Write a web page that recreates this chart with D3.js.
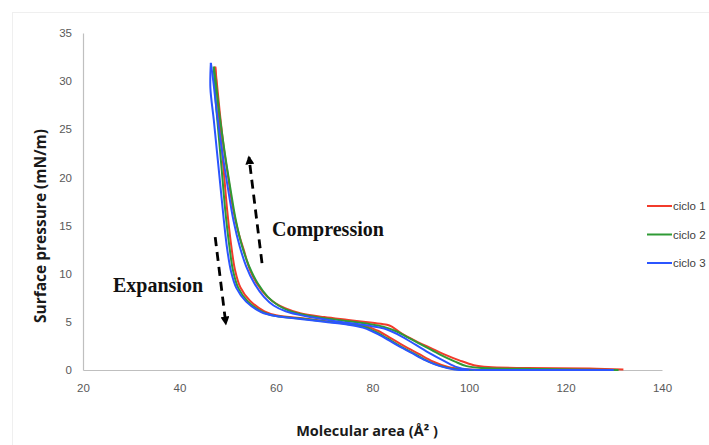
<!DOCTYPE html>
<html>
<head>
<meta charset="utf-8">
<script src="https://cdn.jsdelivr.net/npm/d3@7"></script>
<style>
  body { margin: 0; background: #fff; }
  svg { display: block; }
</style>
</head>
<body>
<svg id="chart" width="709" height="445"></svg>
<script>
// Values (area in Å², pressure in mN/m)
const ciclo1Compression = [
  [132, 0.05], [125, 0.15], [112, 0.2], [104, 0.3], [101, 0.5], [98, 1.0], [95, 1.6],
  [92, 2.3], [89, 3.0], [86, 3.8], [84, 4.5], [83, 4.7], [80, 4.9], [75, 5.2], [70, 5.5],
  [65, 5.9], [62, 6.4], [60, 6.9], [58, 7.7], [56, 9.0], [54.6, 10.4], [53.3, 12.5],
  [52.1, 14.5], [51, 17], [50.1, 20], [49.2, 23], [48.4, 26.5], [47.8, 29.5], [47.4, 31.5]
];
const ciclo1Expansion = [
  [47.4, 31.5], [47.9, 28], [48.5, 24.5], [49.2, 20.5], [49.9, 16.5], [50.7, 13],
  [51.5, 10.4], [52.6, 8.6], [54.6, 7.2], [57.6, 6.1], [60, 5.7], [65, 5.4], [70, 5.1],
  [75, 4.8], [79, 4.5], [81, 4.1], [83.5, 3.4], [86.5, 2.5], [89.5, 1.7], [92.5, 0.9],
  [95.5, 0.35], [98.5, 0.1], [102, 0]
];
const ciclo2Compression = [
  [131, 0], [115, 0.1], [103, 0.2], [99.5, 0.4], [97, 0.9], [94, 1.6], [91, 2.4],
  [88, 3.2], [85, 4.0], [82.2, 4.5], [79, 4.8], [73, 5.2], [67, 5.6], [63, 6.1],
  [60.5, 6.7], [58.3, 7.6], [56.2, 9.0], [54.4, 10.8], [53, 12.8], [51.7, 15.5],
  [50.5, 19], [49.4, 22.5], [48.3, 26.5], [47.5, 30], [47.1, 31.5]
];
const ciclo2Expansion = [
  [47.1, 31.5], [47.5, 28], [48.1, 24.5], [48.8, 20.5], [49.5, 16.5], [50.3, 13],
  [51.1, 10.3], [52.2, 8.5], [54.2, 7.1], [57.3, 6.0], [60, 5.6], [65, 5.35], [70, 5.05],
  [75, 4.75], [78.5, 4.45], [80.5, 4.0], [83, 3.3], [86, 2.4], [89, 1.6], [92, 0.8],
  [95, 0.3], [98, 0.05], [101, 0]
];
const ciclo3Compression = [
  [130, 0], [110, 0], [100, 0.05], [97.5, 0.3], [95, 0.9], [92, 1.7], [89, 2.6],
  [86, 3.5], [83, 4.2], [81.5, 4.4], [78, 4.7], [72, 5.1], [66, 5.6], [62, 6.1],
  [59.5, 6.7], [57.5, 7.6], [55.5, 9.0], [53.8, 10.8], [52.5, 12.8], [51.2, 15.5],
  [50, 19], [48.9, 22.5], [47.8, 26.5], [47, 30], [46.5, 31.9]
];
const ciclo3Expansion = [
  [46.5, 31.9], [46.4, 29.3], [47.1, 26], [47.8, 22.5], [48.5, 19], [49.2, 15.5],
  [49.9, 12.5], [50.7, 10.2], [51.8, 8.5], [53.8, 7.1], [57, 6.0], [60, 5.6], [65, 5.3],
  [70, 5.0], [75, 4.7], [78, 4.4], [80, 4.0], [82, 3.5], [85, 2.6], [88, 1.8], [91, 1.0],
  [94, 0.4], [97, 0.05], [100, 0]
];

const seriesNames = ["ciclo 1", "ciclo 2", "ciclo 3"];
const seriesColors = ["#f23b2b", "#2f9a35", "#2b55ff"];
const xTicks = [20, 40, 60, 80, 100, 120, 140];
const yTicks = [0, 5, 10, 15, 20, 25, 30, 35];

// annotation arrows, [from, to] in data units
const compressionArrow = [[57.1, 11.1], [54.4, 22.1]];
const expansionArrow = [[47.4, 13.8], [49.6, 4.8]];

const svg = d3.select("#chart");

// faint outer frame
svg.append("rect")
  .attr("x", 12.5).attr("y", 12.5)
  .attr("width", 720).attr("height", 460)
  .attr("fill", "none")
  .attr("stroke", "#efefef");

const x = d3.scaleLinear().domain([20, 140]).range([83, 662]);
const y = d3.scaleLinear().domain([0, 35]).range([370, 33]);

const xAxis = d3.axisBottom(x).tickValues(xTicks).tickSize(0).tickSizeOuter(0).tickPadding(14);
const yAxis = d3.axisLeft(y).tickValues(yTicks).tickSize(0).tickSizeOuter(0).tickPadding(11);

const xAxisGroup = svg.append("g").attr("transform", "translate(0,370)").call(xAxis);
const yAxisGroup = svg.append("g").attr("transform", "translate(83,0)").call(yAxis);

[xAxisGroup, yAxisGroup].forEach(g => {
  g.select(".domain").attr("stroke", "#bfbfbf").attr("stroke-width", 1.2);
  g.selectAll("text")
    .attr("fill", "#595959")
    .attr("font-family", "'Liberation Sans', Arial, sans-serif")
    .attr("font-size", "11.5px");
});

// curves
const line = d3.line()
  .x(d => x(d[0]))
  .y(d => y(d[1]))
  .curve(d3.curveCatmullRom.alpha(0.5));

const cycles = [
  [ciclo1Compression, ciclo1Expansion],
  [ciclo2Compression, ciclo2Expansion],
  [ciclo3Compression, ciclo3Expansion]
];

cycles.forEach((branches, i) => {
  branches.forEach(pts => {
    svg.append("path")
      .datum(pts)
      .attr("d", line)
      .attr("fill", "none")
      .attr("stroke", seriesColors[i])
      .attr("stroke-width", 2)
      .attr("stroke-linejoin", "round");
  });
});

// arrows
const defs = svg.append("defs");
defs.append("marker")
  .attr("id", "head")
  .attr("viewBox", "0 0 10 10")
  .attr("refX", 8).attr("refY", 5)
  .attr("markerWidth", 3.2).attr("markerHeight", 3.2)
  .attr("orient", "auto")
  .append("path")
  .attr("d", "M0,0 L10,5 L0,10 z")
  .attr("fill", "#000");

[compressionArrow, expansionArrow].forEach(a => {
  svg.append("line")
    .attr("x1", x(a[0][0])).attr("y1", y(a[0][1]))
    .attr("x2", x(a[1][0])).attr("y2", y(a[1][1]))
    .attr("stroke", "#000")
    .attr("stroke-width", 2.8)
    .attr("stroke-dasharray", "9,6")
    .attr("marker-end", "url(#head)");
});

svg.append("text")
  .attr("x", 272).attr("y", 236)
  .attr("font-family", "'Liberation Serif', 'DejaVu Serif', serif")
  .attr("font-weight", "bold")
  .attr("font-size", "20px")
  .attr("fill", "#111")
  .text("Compression");

svg.append("text")
  .attr("x", 113).attr("y", 292)
  .attr("font-family", "'Liberation Serif', 'DejaVu Serif', serif")
  .attr("font-weight", "bold")
  .attr("font-size", "20px")
  .attr("fill", "#111")
  .text("Expansion");

// axis titles
svg.append("text")
  .attr("transform", "translate(46,226) rotate(-90)")
  .attr("text-anchor", "middle")
  .attr("font-family", "'Open Sans', 'Liberation Sans', sans-serif")
  .attr("font-weight", "bold")
  .attr("font-size", "15.5px")
  .attr("fill", "#1a1a1a")
  .text("Surface pressure (mN/m)");

svg.append("text")
  .attr("x", 367).attr("y", 436)
  .attr("text-anchor", "middle")
  .attr("font-family", "'Open Sans', 'Liberation Sans', sans-serif")
  .attr("font-weight", "bold")
  .attr("font-size", "14.5px")
  .attr("fill", "#1a1a1a")
  .text("Molecular area (Å² )");

// legend
const legend = svg.append("g").attr("transform", "translate(647,206)");
seriesNames.forEach((name, i) => {
  const row = legend.append("g").attr("transform", `translate(0,${i * 28.5})`);
  row.append("line")
    .attr("x1", 0).attr("x2", 25)
    .attr("stroke", seriesColors[i])
    .attr("stroke-width", 2);
  row.append("text")
    .attr("x", 26).attr("y", 4)
    .attr("font-family", "'Liberation Sans', Arial, sans-serif")
    .attr("font-size", "11.5px")
    .attr("fill", "#404040")
    .text(name);
});
</script>
</body>
</html>
